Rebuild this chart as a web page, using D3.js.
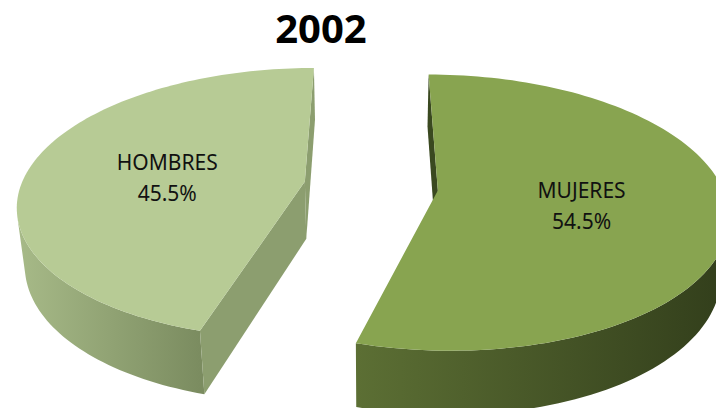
<!DOCTYPE html>
<html>
<head>
<meta charset="utf-8">
<script src="https://cdn.jsdelivr.net/npm/d3@7/dist/d3.min.js"></script>
<style>
  body { margin: 0; background: #fff; }
  svg { display: block; }
</style>
</head>
<body>
<div id="chart"></div>
<script>
var title = '2002'
var categories = ['HOMBRES', 'MUJERES']
var values = [45.5, 54.5]

var width = 716
var height = 408

// colours per slice: top, cut face, outer wall gradient (left -> right)
var topColors = ['#b7cb95', '#88a450']
var faceColors = ['#8c9e6f', '#3a4920']
var wallColors = [['#a7ba88', '#7b8c60'], ['#5c6f34', '#323e1b']]

// simple perspective camera looking down on the pie
var cosA = 0.87
var sinA = 0.493
var D = 5.45
var fx = 1548
var fy = 1471.5
var cx0 = 371
var cy0 = 186
var explode = 0.2365
var thick = 0.25
var labelR = 0.5

function project (x, y, z) {
  var d = D - (y * sinA + z * cosA)
  var vy = y * cosA - z * sinA
  return [cx0 + fx * x / d, cy0 - fy * vy / d]
}

// camera position in world coords
var cam = [0, D * sinA, D * cosA]

function facing (n, p) {
  return n[0] * (cam[0] - p[0]) + n[1] * (cam[1] - p[1]) + n[2] * (cam[2] - p[2]) > 0
}

var total = d3.sum(values)
var pie = d3.pie()
  .sort(null)
  .startAngle(-2 * Math.PI * values[0] / total)
  .endAngle(2 * Math.PI - 2 * Math.PI * values[0] / total)

var arcs = pie(values)

var svg = d3.select('#chart')
  .append('svg')
  .attr('width', width)
  .attr('height', height)

var defs = svg.append('defs')
var line = d3.line()

svg.append('text')
  .attr('x', 321)
  .attr('y', 43)
  .attr('text-anchor', 'middle')
  .style('font-family', '"Open Sans", "Noto Sans", sans-serif')
  .style('font-weight', 700)
  .style('font-size', '40px')
  .style('fill', '#000')
  .text(title)

arcs.forEach(function (a, i) {
  var mid = (a.startAngle + a.endAngle) / 2
  var ox = explode * Math.sin(mid)
  var oz = -explode * Math.cos(mid)
  var apex = [ox, 0, oz]
  function rim (t, y) {
    return [ox + Math.sin(t), y, oz - Math.cos(t)]
  }
  var g = svg.append('g').attr('class', 'slice')

  // outer wall, only the part turned to the camera
  var steps = 120
  var vis = []
  for (var k = 0; k <= steps; k++) {
    var t = a.startAngle + (a.endAngle - a.startAngle) * k / steps
    var n = [Math.sin(t), 0, -Math.cos(t)]
    if (facing(n, rim(t, 0))) vis.push(t)
  }
  if (vis.length > 1) {
    var topPts = vis.map(function (t) { var p = rim(t, 0); return project(p[0], p[1], p[2]) })
    var botPts = vis.map(function (t) { var p = rim(t, -thick); return project(p[0], p[1], p[2]) }).reverse()
    var xs = topPts.map(function (p) { return p[0] })
    var grad = defs.append('linearGradient')
      .attr('id', 'wall' + i)
      .attr('gradientUnits', 'userSpaceOnUse')
      .attr('x1', d3.min(xs)).attr('y1', 0)
      .attr('x2', d3.max(xs)).attr('y2', 0)
    grad.append('stop').attr('offset', 0).attr('stop-color', wallColors[i][0])
    grad.append('stop').attr('offset', 1).attr('stop-color', wallColors[i][1])
    g.append('path')
      .attr('d', line(topPts.concat(botPts)) + 'Z')
      .attr('fill', 'url(#wall' + i + ')')
  }

  // cut faces along the two radii
  ;[[a.startAngle, a.startAngle - Math.PI / 2], [a.endAngle, a.endAngle + Math.PI / 2]].forEach(function (e) {
    var n = [Math.sin(e[1]), 0, -Math.cos(e[1])]
    if (!facing(n, apex)) return
    var pts = [apex, rim(e[0], 0), rim(e[0], -thick), [ox, -thick, oz]].map(function (p) {
      return project(p[0], p[1], p[2])
    })
    g.append('path')
      .attr('d', line(pts) + 'Z')
      .attr('fill', faceColors[i])
  })

  // top surface
  var top = [project(apex[0], 0, apex[2])]
  for (var k = 0; k <= steps; k++) {
    var t = a.startAngle + (a.endAngle - a.startAngle) * k / steps
    var p = rim(t, 0)
    top.push(project(p[0], p[1], p[2]))
  }
  g.append('path')
    .attr('d', line(top) + 'Z')
    .attr('fill', topColors[i])

  // label
  var lp = project(ox + labelR * Math.sin(mid), 0, oz - labelR * Math.cos(mid))
  var label = g.append('text')
    .attr('text-anchor', 'middle')
    .style('font-family', '"Noto Sans", "Open Sans", sans-serif')
    .style('font-size', '21px')
    .style('fill', '#111')
  label.append('tspan')
    .attr('x', lp[0])
    .attr('y', lp[1] - 2)
    .text(categories[i])
  label.append('tspan')
    .attr('x', lp[0])
    .attr('y', lp[1] + 29)
    .text(d3.format('.1f')(a.value / total * 100) + '%')
})
</script>
</body>
</html>
